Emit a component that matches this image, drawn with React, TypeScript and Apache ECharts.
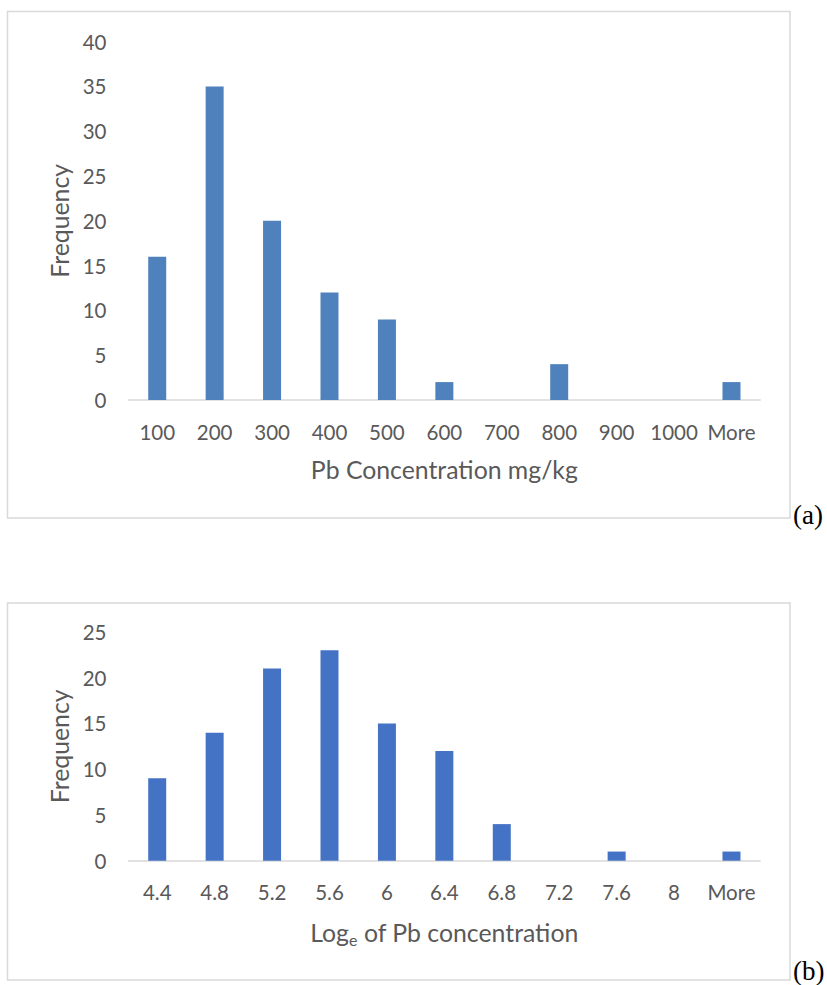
import React, { useEffect, useRef } from "react";
import * as echarts from "echarts";

const catsA = ["100", "200", "300", "400", "500", "600", "700", "800", "900", "1000", "More"];
const freqA = [16, 35, 20, 12, 9, 2, 0, 4, 0, 0, 2];
const catsB = ["4.4", "4.8", "5.2", "5.6", "6", "6.4", "6.8", "7.2", "7.6", "8", "More"];
const freqB = [9, 14, 21, 23, 15, 12, 4, 0, 1, 0, 1];

const FONT = "Lato";
const TXT = "#595959";
const TICK = 20.5;
const TITLE = 24.8;

export default function App() {
  const ref = useRef<HTMLDivElement>(null);
  useEffect(() => {
    if (!ref.current) return;
    const chart = echarts.init(ref.current, null, { renderer: "svg" });
    const xAxisCommon = (cats: string[]) => ({
      type: "category",
      data: cats,
      axisLine: { show: true, lineStyle: { color: "#D9D9D9", width: 1.5 } },
      axisTick: { show: false },
      axisLabel: { color: TXT, fontFamily: FONT, fontSize: TICK, margin: 21, interval: 0 },
      nameLocation: "middle",
      nameTextStyle: { color: TXT, fontFamily: FONT, fontSize: TITLE },
    });
    const yAxisCommon = (max: number) => ({
      type: "value",
      min: 0,
      max,
      interval: 5,
      splitLine: { show: false },
      axisLine: { show: false },
      axisTick: { show: false },
      axisLabel: { color: TXT, fontFamily: FONT, fontSize: TICK, margin: 22 },
      name: "Frequency",
      nameLocation: "middle",
      nameGap: 57,
      nameTextStyle: { color: TXT, fontFamily: FONT, fontSize: TITLE },
    });
    chart.setOption({
      animation: false,
      grid: [
        { left: 128.5, top: 41.7, width: 631.7, height: 358.3 },
        { left: 128.5, top: 632, width: 631.7, height: 228.7 },
      ],
      xAxis: [
        {
          ...xAxisCommon(catsA),
          gridIndex: 0,
          name: "Pb Concentration mg/kg",
          nameGap: 57,
        },
        {
          ...xAxisCommon(catsB),
          gridIndex: 1,
          name: "{a|Log}{s|e}{a| of Pb concentration}",
          nameGap: 57,
          nameTextStyle: {
            color: TXT,
            fontFamily: FONT,
            fontSize: TITLE,
            rich: {
              a: { color: TXT, fontFamily: FONT, fontSize: TITLE },
              s: { color: TXT, fontFamily: FONT, fontSize: 16, verticalAlign: "bottom", padding: [14, 0, 0, 0] },
            },
          },
        },
      ],
      yAxis: [
        { ...yAxisCommon(40), gridIndex: 0 },
        { ...yAxisCommon(25), gridIndex: 1 },
      ],
      series: [
        {
          type: "bar",
          xAxisIndex: 0,
          yAxisIndex: 0,
          data: freqA,
          barWidth: 18,
          itemStyle: { color: "#4F81BD" },
        },
        {
          type: "bar",
          xAxisIndex: 1,
          yAxisIndex: 1,
          data: freqB,
          barWidth: 18,
          itemStyle: { color: "#4472C4" },
        },
      ],
      graphic: [
        {
          type: "rect",
          shape: { x: 7.5, y: 11.5, width: 782.5, height: 506.5 },
          style: { fill: "none", stroke: "#D9D9D9", lineWidth: 1.5 },
          silent: true,
        },
        {
          type: "rect",
          shape: { x: 7.5, y: 603, width: 782.5, height: 377 },
          style: { fill: "none", stroke: "#D9D9D9", lineWidth: 1.5 },
          silent: true,
        },
        {
          type: "text",
          x: 793,
          y: 515,
          style: {
            text: "(a)",
            fill: "#000",
            font: "27px 'Liberation Serif', 'Times New Roman', serif",
            verticalAlign: "middle",
            align: "left",
          },
        },
        {
          type: "text",
          x: 793,
          y: 971,
          style: {
            text: "(b)",
            fill: "#000",
            font: "27px 'Liberation Serif', 'Times New Roman', serif",
            verticalAlign: "middle",
            align: "left",
          },
        },
      ],
    });
    return () => chart.dispose();
  }, []);
  return (
    <div
      ref={ref}
      style={{ position: "absolute", left: 0, top: 0, width: 827, height: 985, background: "#fff" }}
    />
  );
}
